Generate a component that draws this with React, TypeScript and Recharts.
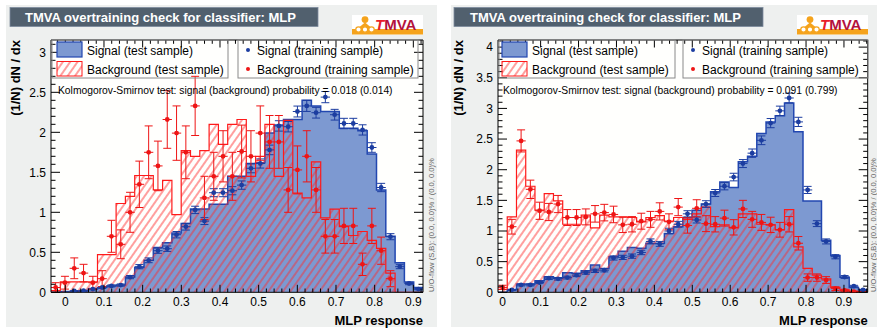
import React from 'react';
import { ComposedChart, Area, Scatter, ErrorBar, XAxis, YAxis } from 'recharts';

const FONT = '"Liberation Sans", Arial, Helvetica, sans-serif';

// MLP response range of the 40 bins in each panel
const leftRange = [-0.037, 0.925];
const rightRange = [-0.0124, 0.9626];

// left panel: test histograms (per bin) and training points
const leftSigTest = [0, 0.01, 0.01, 0.02, 0.04, 0.06, 0.08, 0.09, 0.19, 0.31, 0.4, 0.56, 0.62, 0.74, 0.86, 1.04, 1.04, 1.1, 1.1, 1.45, 1.45, 1.61, 1.62, 1.99, 2.09, 2.16, 2.16, 2.4, 2.33, 2.26, 2.26, 2.05, 2.05, 2.02, 1.73, 1.28, 0.7, 0.37, 0.13, 0.06];
const leftBkgTest = [0.02, 0.13, 0.13, 0.13, 0.13, 0.47, 0.47, 1.11, 1.2, 1.46, 1.46, 1.28, 1.4, 0.97, 1.77, 1.7, 1.77, 2.1, 1.85, 2.1, 2.16, 1.45, 1.7, 2.1, 1.45, 2.15, 1.24, 1.18, 1.63, 0.93, 1.04, 0.82, 0.71, 0.76, 0.65, 0.55, 0.24, 0, 0, 0];
const leftSigTrain = [null, null, 0.016, 0.02, 0.04, 0.06, 0.08, 0.09, 0.19, 0.32, 0.4, 0.52, 0.545, 0.72, 0.82, 1.03, 0.89, 1.245, 1.245, 1.27, 1.34, 1.55, 1.61, 1.78, 2.08, 2.07, 2.26, 2.33, 2.245, 2.44, 2.22, 2.11, 2.11, 2.03, 1.81, 1.31, 0.695, 0.32, 0.11, 0.04];
const leftSigErr = [null, null, 0.006, 0.007, 0.01, 0.012, 0.013, 0.014, 0.02, 0.026, 0.03, 0.033, 0.034, 0.04, 0.042, 0.046, 0.043, 0.05, 0.05, 0.051, 0.052, 0.056, 0.057, 0.06, 0.065, 0.065, 0.068, 0.069, 0.067, 0.07, 0.067, 0.065, 0.065, 0.064, 0.06, 0.052, 0.038, 0.025, 0.015, 0.009];
const leftBkgTrain = [0.06, 0.12, 0.3, 0.24, 0.12, 0.17, 0.7, 0.6, 1.0, 1.35, 1.75, 1.58, 2.16, 1.99, 1.75, 2.33, 1.18, 1.45, 1.7, 1.45, 1.76, 1.7, 1.99, 1.88, 1.88, 1.28, 1.53, 1.7, 1.28, 0.7, 0.7, 0.83, 0.83, 0.35, 0.83, 0.52, 0.17, null, null, null];
const leftBkgErr = [0.06, 0.08, 0.13, 0.11, 0.08, 0.1, 0.2, 0.18, 0.25, 0.29, 0.33, 0.31, 0.36, 0.34, 0.33, 0.37, 0.27, 0.3, 0.32, 0.3, 0.33, 0.32, 0.34, 0.33, 0.33, 0.28, 0.3, 0.32, 0.28, 0.21, 0.21, 0.22, 0.22, 0.14, 0.22, 0.17, 0.1, null, null, null];
const leftKS = 'Kolmogorov-Smirnov test: signal (background) probability = 0.018 (0.014)';

// right panel
const rightSigTest = [0, 0.04, 0.135, 0.135, 0.19, 0.255, 0.23, 0.32, 0.31, 0.35, 0.445, 0.39, 0.58, 0.67, 0.73, 0.72, 0.8, 0.8, 0.96, 1.07, 1.22, 1.34, 1.44, 1.64, 1.8, 1.71, 2.13, 2.22, 2.59, 2.78, 2.88, 3.09, 2.62, 1.49, 1.49, 0.85, 0.6, 0.245, 0.08, 0.04];
const rightBkgTest = [0.05, 1.23, 2.32, 1.73, 1.34, 1.61, 1.49, 1.11, 1.11, 1.26, 1.05, 1.26, 1.23, 1.23, 1.22, 1.15, 1.22, 1.25, 1.16, 1.22, 1.19, 1.28, 1.39, 1.07, 1.1, 1.05, 1.28, 1.28, 1.11, 1.1, 1.02, 1.35, 0.74, 0.39, 0.28, 0.22, 0.08, 0.04, 0.01, 0.01];
const rightSigTrain = [null, 0.04, 0.12, 0.12, 0.16, 0.23, 0.22, 0.24, 0.28, 0.32, 0.35, 0.36, 0.56, 0.57, 0.59, 0.65, 0.83, 0.79, 1.0, 1.11, 1.28, 1.18, 1.44, 1.62, 1.73, 1.88, 2.1, 2.27, 2.48, 2.76, 2.96, 3.17, 2.78, 1.67, 1.12, 0.83, 0.58, 0.25, 0.1, 0.04];
const rightSigErr = [null, 0.01, 0.016, 0.016, 0.018, 0.022, 0.021, 0.022, 0.024, 0.025, 0.027, 0.027, 0.034, 0.034, 0.035, 0.036, 0.041, 0.04, 0.045, 0.047, 0.051, 0.049, 0.054, 0.057, 0.059, 0.062, 0.065, 0.068, 0.071, 0.075, 0.077, 0.08, 0.075, 0.058, 0.048, 0.041, 0.034, 0.023, 0.014, 0.009];
const rightBkgTrain = [0.08, 1.07, 2.47, 1.68, 1.33, 1.31, 1.44, 1.22, 1.22, 1.23, 1.28, 1.3, 1.27, 1.1, 1.11, 1.16, 1.19, 1.32, 1.15, 1.39, 1.09, 1.37, 1.12, 1.11, 1.21, 1.06, 1.36, 1.19, 1.14, 1.1, 1.02, 1.11, 0.8, 0.24, 0.24, 0.2, 0.06, 0.03, 0.01, null];
const rightBkgErr = [0.035, 0.12, 0.18, 0.15, 0.14, 0.14, 0.14, 0.13, 0.13, 0.13, 0.135, 0.135, 0.135, 0.125, 0.125, 0.13, 0.13, 0.14, 0.13, 0.14, 0.125, 0.14, 0.13, 0.125, 0.13, 0.125, 0.14, 0.13, 0.13, 0.125, 0.12, 0.125, 0.11, 0.06, 0.06, 0.055, 0.03, 0.02, 0.012, null];
const rightKS = 'Kolmogorov-Smirnov test: signal (background) probability = 0.091 (0.799)';

// axis ticks
const xTickValues = [0, 0.1, 0.2, 0.3, 0.4, 0.5, 0.6, 0.7, 0.8, 0.9];
const xTickLabels = ['0', '0.1', '0.2', '0.3', '0.4', '0.5', '0.6', '0.7', '0.8', '0.9'];
const leftYTickValues = [0, 0.5, 1, 1.5, 2, 2.5, 3];
const leftYTickLabels = ['0', '0.5', '1', '1.5', '2', '2.5', '3'];
const rightYTickValues = [0, 0.5, 1, 1.5, 2, 2.5, 3, 3.5, 4];
const rightYTickLabels = ['0', '0.5', '1', '1.5', '2', '2.5', '3', '3.5', '4'];

const legendLabels = ['Signal (test sample)', 'Background (test sample)', 'Signal (training sample)', 'Background (training sample)'];

const SIG_FILL = '#7d99d1';
const SIG_LINE = '#2247b0';
const SIG_PT = '#1c3da0';
const BKG_LINE = '#ff1a1a';
const BKG_PT = '#ee1515';

function tickGrid(lo, hi, step) {
  const out = [];
  for (let k = Math.ceil(lo / step - 1e-9); k * step <= hi + 1e-9; k++) out.push(+(k * step).toFixed(4));
  return out;
}

function histRows(range, sig, bkg) {
  const w = (range[1] - range[0]) / sig.length;
  const rows = sig.map((s, i) => ({ x: range[0] + i * w, sig: s, bkg: bkg[i] }));
  rows.push({ x: range[1], sig: sig[sig.length - 1], bkg: bkg[bkg.length - 1] });
  return rows;
}

function pointRows(range, vals, errs) {
  const w = (range[1] - range[0]) / vals.length;
  const out = [];
  vals.forEach((v, i) => {
    if (v == null) return;
    out.push({ x: range[0] + (i + 0.5) * w, y: v, ey: errs[i], ex: w / 2 });
  });
  return out;
}

function majorIndex(v, majors) {
  return majors.findIndex((m) => Math.abs(m - v) < 1e-6);
}

const panels = [
  {
    key: 'L', range: leftRange, ymax: 3.154, chartLeft: 0, chartWidth: 440,
    plot: { l: 51, r: 423, t: 40, b: 292.3 },
    sigTest: leftSigTest, bkgTest: leftBkgTest, sigTrain: leftSigTrain, sigErr: leftSigErr, bkgTrain: leftBkgTrain, bkgErr: leftBkgErr,
    yTicks: leftYTickValues, yLabels: leftYTickLabels, ks: leftKS,
    bg: { x: 6, w: 431 }, title: { x: 10, w: 308, tx: 25 }, logoX: 352,
    legend: { b1: [52, 228], b2: [238, 418], sw: 57, t1: 87, dot: 248, t2: 257 },
    ksX: 58, yLabX: 20, uoX: 434,
  },
  {
    key: 'R', range: rightRange, ymax: 4.116, chartLeft: 440, chartWidth: 437,
    plot: { l: 498, r: 867.7, t: 40, b: 292.3 },
    sigTest: rightSigTest, bkgTest: rightBkgTest, sigTrain: rightSigTrain, sigErr: rightSigErr, bkgTrain: rightBkgTrain, bkgErr: rightBkgErr,
    yTicks: rightYTickValues, yLabels: rightYTickLabels, ks: rightKS,
    bg: { x: 451, w: 426 }, title: { x: 454, w: 309, tx: 470 }, logoX: 797,
    legend: { b1: [499, 675], b2: [683, 868], sw: 502, t1: 532, dot: 693, t2: 702 },
    ksX: 503, yLabX: 463, uoX: 876,
  },
];

const dot = (color) => (p) => <circle cx={p.cx} cy={p.cy} r={2.4} fill={color} />;

function PlotChart({ p }) {
  const rows = histRows(p.range, p.sigTest, p.bkgTest);
  const sigPts = pointRows(p.range, p.sigTrain, p.sigErr);
  const bkgPts = pointRows(p.range, p.bkgTrain, p.bkgErr);
  const xTicks = tickGrid(p.range[0], p.range[1], 0.02);
  const yTicks = tickGrid(0, p.ymax, 0.1);

  const bottomTick = (t) => {
    const i = majorIndex(t.payload.value, xTickValues);
    const len = i >= 0 ? 7.5 : 3.8;
    return (
      <g>
        <line x1={t.x} x2={t.x} y1={t.y} y2={t.y - len} stroke="#000" />
        {i >= 0 && (
          <text x={t.x} y={t.y + 14} textAnchor="middle" fontSize={12} fontFamily={FONT} fill="#000">{xTickLabels[i]}</text>
        )}
      </g>
    );
  };
  const topTick = (t) => {
    const i = majorIndex(t.payload.value, xTickValues);
    const len = i >= 0 ? 7.5 : 3.8;
    return <line x1={t.x} x2={t.x} y1={t.y} y2={t.y + len} stroke="#000" />;
  };
  const leftTick = (t) => {
    const i = majorIndex(t.payload.value, p.yTicks);
    const len = i >= 0 ? 9 : 4.5;
    return (
      <g>
        <line x1={t.x} x2={t.x + len} y1={t.y} y2={t.y} stroke="#000" />
        {i >= 0 && (
          <text x={t.x - 5} y={t.y + 4.3} textAnchor="end" fontSize={12} fontFamily={FONT} fill="#000">{p.yLabels[i]}</text>
        )}
      </g>
    );
  };
  const rightTick = (t) => {
    const i = majorIndex(t.payload.value, p.yTicks);
    const len = i >= 0 ? 9 : 4.5;
    return <line x1={t.x} x2={t.x - len} y1={t.y} y2={t.y} stroke="#000" />;
  };

  // axes take 1px each; margins shrink by that so the plot area lands on the frame
  return (
    <div style={{ position: 'absolute', left: p.chartLeft, top: 0 }}>
      <ComposedChart
        width={p.chartWidth}
        height={329}
        data={rows}
        style={{ overflow: 'visible' }}
        margin={{ left: p.plot.l - p.chartLeft - 1, right: p.chartLeft + p.chartWidth - p.plot.r - 1, top: p.plot.t - 1, bottom: 329 - p.plot.b - 1 }}
      >
        <XAxis xAxisId="b" dataKey="x" type="number" domain={p.range} allowDataOverflow ticks={xTicks} interval={0}
          height={1} tickLine={false} tickSize={0} tickMargin={0} axisLine={{ stroke: '#000' }} tick={bottomTick} />
        <XAxis xAxisId="t" orientation="top" dataKey="x" type="number" domain={p.range} allowDataOverflow ticks={xTicks} interval={0}
          height={1} tickLine={false} tickSize={0} tickMargin={0} axisLine={{ stroke: '#000' }} tick={topTick} />
        <YAxis yAxisId="l" type="number" domain={[0, p.ymax]} allowDataOverflow ticks={yTicks} interval={0}
          width={1} tickLine={false} tickSize={0} tickMargin={0} axisLine={{ stroke: '#000' }} tick={leftTick} />
        <YAxis yAxisId="r" orientation="right" type="number" domain={[0, p.ymax]} allowDataOverflow ticks={yTicks} interval={0}
          width={1} tickLine={false} tickSize={0} tickMargin={0} axisLine={{ stroke: '#000' }} tick={rightTick} />
        <Area xAxisId="b" yAxisId="l" type="stepAfter" dataKey="sig" stroke={SIG_LINE} strokeWidth={1.5}
          fill={SIG_FILL} fillOpacity={1} dot={false} activeDot={false} isAnimationActive={false} />
        <Area xAxisId="b" yAxisId="l" type="stepAfter" dataKey="bkg" stroke={BKG_LINE} strokeWidth={1.2}
          fill="url(#bkgHatch)" fillOpacity={1} dot={false} activeDot={false} isAnimationActive={false} />
        <Scatter xAxisId="b" yAxisId="l" data={sigPts} dataKey="y" shape={dot(SIG_PT)} isAnimationActive={false}>
          <ErrorBar dataKey="ey" direction="y" width={4} stroke={SIG_PT} strokeWidth={1} />
          <ErrorBar dataKey="ex" direction="x" width={0} stroke={SIG_PT} strokeWidth={1} />
        </Scatter>
        <Scatter xAxisId="b" yAxisId="l" data={bkgPts} dataKey="y" shape={dot(BKG_PT)} isAnimationActive={false}>
          <ErrorBar dataKey="ey" direction="y" width={4} stroke={BKG_PT} strokeWidth={1} />
          <ErrorBar dataKey="ex" direction="x" width={0} stroke={BKG_PT} strokeWidth={1} />
        </Scatter>
      </ComposedChart>
    </div>
  );
}

function Logo({ x }) {
  return (
    <g transform={`translate(${x},15)`}>
      <rect width={71} height={19.5} fill="#fff" />
      <rect y={14} width={71} height={5.5} fill="#f5a31c" />
      <circle cx={13} cy={4.6} r={3.4} fill="#f5a31c" />
      <path d="M5,14 L13,7.5 L21,14 Z" fill="#f5a31c" />
      <circle cx={6.5} cy={14.5} r={2.7} fill="#fff" stroke="#f5a31c" strokeWidth={1.2} />
      <circle cx={13} cy={14.5} r={2.7} fill="#fff" stroke="#f5a31c" strokeWidth={1.2} />
      <circle cx={19.5} cy={14.5} r={2.7} fill="#fff" stroke="#f5a31c" strokeWidth={1.2} />
      <text x={23} y={14.5} fontSize={15} fontWeight="bold" fontFamily={FONT}>
        <tspan fill="#e8202a" fontStyle="italic">T</tspan>
        <tspan fill="#b3123e">MVA</tspan>
      </text>
    </g>
  );
}

function Overlay({ p }) {
  const L = p.legend;
  return (
    <g fontFamily={FONT}>
      <rect x={p.title.x} y={7.5} width={p.title.w} height={19} fill="#51606e" stroke="#7d8b9d" strokeWidth={0.8} />
      <text x={p.title.tx} y={22} fill="#fff" fontSize={13} fontWeight="bold">TMVA overtraining check for classifier: MLP</text>
      <Logo x={p.logoX} />

      <rect x={L.b1[0]} y={40} width={L.b1[1] - L.b1[0]} height={38} fill="none" stroke="#8a8a8a" strokeWidth={1} />
      <rect x={L.b2[0]} y={40} width={L.b2[1] - L.b2[0]} height={38} fill="none" stroke="#8a8a8a" strokeWidth={1} />
      <rect x={L.sw} y={42} width={25} height={15} fill={SIG_FILL} stroke={SIG_LINE} strokeWidth={1.2} />
      <rect x={L.sw} y={61.5} width={25} height={14.5} fill="url(#bkgHatch)" stroke={BKG_LINE} strokeWidth={1} />
      <text x={L.t1} y={54.5} fontSize={12} fill="#000">{legendLabels[0]}</text>
      <text x={L.t1} y={73.5} fontSize={12} fill="#000">{legendLabels[1]}</text>
      <circle cx={L.dot} cy={50} r={2} fill={SIG_PT} />
      <circle cx={L.dot} cy={69} r={2} fill={BKG_PT} />
      <text x={L.t2} y={54.5} fontSize={12} fill="#000">{legendLabels[2]}</text>
      <text x={L.t2} y={73.5} fontSize={12} fill="#000">{legendLabels[3]}</text>

      <text x={p.ksX} y={93.5} fontSize={10.3} fill="#000">{p.ks}</text>
      <text transform={`translate(${p.yLabX},40) rotate(-90)`} textAnchor="end" fontSize={13} fontWeight="bold" fill="#000">(1/N) dN / dx</text>
      <text x={p.plot.r} y={324.5} textAnchor="end" fontSize={13} fontWeight="bold" fill="#000">MLP response</text>
      <text transform={`translate(${p.uoX},292) rotate(-90)`} fontSize={7.6} fill="#666">U/O-flow (S,B): (0.0, 0.0)% / (0.0, 0.0)%</text>
    </g>
  );
}

export default function App() {
  return (
    <div style={{ position: 'absolute', left: 0, top: 0, width: 877, height: 329, background: '#fff', overflow: 'hidden' }}>
      <svg width={877} height={329} style={{ position: 'absolute', left: 0, top: 0 }}>
        <defs>
          <pattern id="bkgHatch" patternUnits="userSpaceOnUse" width={6} height={6} patternTransform="rotate(35)">
            <line x1={3} y1={-1} x2={3} y2={7} stroke="#ff2a2a" strokeWidth={0.9} />
          </pattern>
        </defs>
        {panels.map((p) => (
          <g key={p.key}>
            <rect x={p.bg.x} y={5} width={p.bg.w} height={322} fill="#eef0ef" />
            <rect x={p.plot.l} y={p.plot.t} width={p.plot.r - p.plot.l} height={p.plot.b - p.plot.t} fill="#fffffd" />
          </g>
        ))}
      </svg>
      {panels.map((p) => (
        <PlotChart key={p.key} p={p} />
      ))}
      <svg width={877} height={329} style={{ position: 'absolute', left: 0, top: 0, pointerEvents: 'none' }}>
        {panels.map((p) => (
          <Overlay key={p.key} p={p} />
        ))}
      </svg>
    </div>
  );
}
